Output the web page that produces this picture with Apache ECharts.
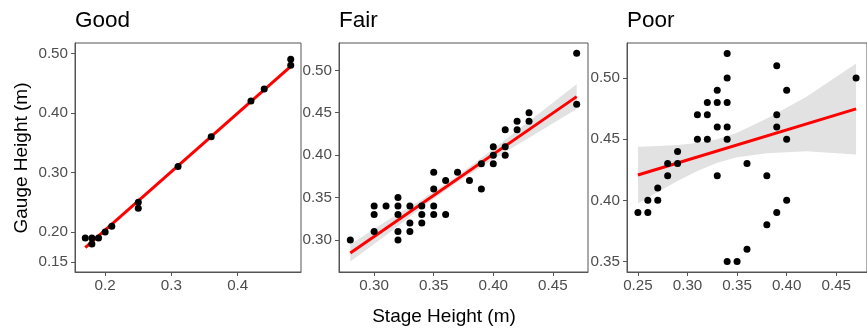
<!DOCTYPE html>
<html>
<head>
<meta charset="utf-8">
<style>
  html, body { margin: 0; padding: 0; background: #fff; }
  #chart { width: 867px; height: 329px; }
</style>
<script src="https://cdn.jsdelivr.net/npm/echarts@6/dist/echarts.min.js"></script>
</head>
<body>
<div id="chart"></div>
<script>
// panel names
const panels = ['Good', 'Fair', 'Poor'];

// Good
const goodX = [0.17, 0.18, 0.18, 0.19, 0.20, 0.21, 0.25, 0.25, 0.31, 0.36, 0.42, 0.44, 0.48, 0.48];
const goodY = [0.19, 0.19, 0.18, 0.19, 0.20, 0.21, 0.25, 0.24, 0.31, 0.36, 0.42, 0.44, 0.49, 0.48];
const goodFitX = [0.17, 0.48];
const goodFitY = [0.174, 0.478];

// Fair
const fairX = [0.28, 0.30, 0.30, 0.30, 0.31, 0.32, 0.32, 0.32, 0.32, 0.32, 0.33, 0.33, 0.33,
  0.34, 0.34, 0.34, 0.35, 0.35, 0.35, 0.35, 0.36, 0.36, 0.37, 0.38, 0.39, 0.39,
  0.40, 0.40, 0.40, 0.41, 0.41, 0.41, 0.42, 0.42, 0.43, 0.43, 0.47, 0.47];
const fairY = [0.30, 0.34, 0.33, 0.31, 0.34, 0.35, 0.34, 0.33, 0.31, 0.30, 0.34, 0.32, 0.31,
  0.34, 0.33, 0.32, 0.38, 0.36, 0.34, 0.33, 0.37, 0.33, 0.38, 0.37, 0.39, 0.36,
  0.41, 0.40, 0.39, 0.43, 0.41, 0.40, 0.44, 0.43, 0.45, 0.44, 0.52, 0.46];
const fairFitX = [0.28, 0.47];
const fairFitY = [0.2848, 0.469];
const fairBandX = [0.28, 0.31, 0.34, 0.37, 0.40, 0.43, 0.47];
const fairBandLo = [0.2748, 0.3057, 0.3382, 0.3685, 0.3951, 0.4205, 0.4545];
const fairBandHi = [0.2948, 0.3221, 0.3478, 0.3757, 0.4073, 0.4400, 0.4835];

// Poor
const poorX = [0.25, 0.26, 0.26, 0.27, 0.27, 0.28, 0.28, 0.29, 0.29, 0.31, 0.31, 0.32, 0.32, 0.32,
  0.33, 0.33, 0.33, 0.33, 0.34, 0.34, 0.34, 0.34, 0.34, 0.34, 0.35, 0.36, 0.36,
  0.38, 0.38, 0.39, 0.39, 0.39, 0.39, 0.40, 0.40, 0.40, 0.47];
const poorY = [0.39, 0.40, 0.39, 0.41, 0.40, 0.43, 0.42, 0.44, 0.43, 0.47, 0.45, 0.48, 0.47, 0.45,
  0.49, 0.48, 0.46, 0.42, 0.52, 0.50, 0.48, 0.46, 0.45, 0.35, 0.35, 0.43, 0.36,
  0.42, 0.38, 0.51, 0.47, 0.46, 0.39, 0.49, 0.45, 0.40, 0.50];
const poorFitX = [0.25, 0.47];
const poorFitY = [0.4207, 0.4747];
const poorBandX = [0.25, 0.27, 0.29, 0.31, 0.33, 0.35, 0.38, 0.42, 0.47];
const poorBandLo = [0.3975, 0.4069, 0.4158, 0.4240, 0.4307, 0.4352, 0.4384, 0.4401, 0.4375];
const poorBandHi = [0.4438, 0.4443, 0.4452, 0.4469, 0.4499, 0.4552, 0.4668, 0.4847, 0.5117];

// tick labels
const goodXTicks = [0.2, 0.3, 0.4];
const goodYTicks = [0.15, 0.20, 0.30, 0.40, 0.50];
const fairXTicks = [0.30, 0.35, 0.40, 0.45];
const fairYTicks = [0.30, 0.35, 0.40, 0.45, 0.50];
const poorXTicks = [0.25, 0.30, 0.35, 0.40, 0.45];
const poorYTicks = [0.35, 0.40, 0.45, 0.50];

const FONT = '"Liberation Sans", Arial, Helvetica, sans-serif';
const AXIS_COLOR = '#555';
const LABEL_COLOR = '#4d4d4d';

const zip = (xs, ys) => xs.map((x, i) => [x, ys[i]]);

const grids = [
  { left: 75, top: 43, width: 226, height: 229 },
  { left: 339, top: 43, width: 249, height: 229 },
  { left: 627, top: 43, width: 249, height: 229 },
];
const xRanges = [[0.1545, 0.4955], [0.2705, 0.4795], [0.239, 0.481]];
const yRanges = [[0.1331, 0.5173], [0.2623, 0.5322], [0.3415, 0.5285]];
const xTicks = [goodXTicks, fairXTicks, poorXTicks];
const yTicks = [goodYTicks, fairYTicks, poorYTicks];
const xDigits = [1, 2, 2];

function axis(i, dir) {
  const isX = dir === 'x';
  const rng = isX ? xRanges[i] : yRanges[i];
  const ticks = isX ? xTicks[i] : yTicks[i];
  const digits = isX ? xDigits[i] : 2;
  return {
    gridIndex: i,
    type: 'value',
    min: rng[0],
    max: rng[1],
    splitLine: { show: false },
    axisLine: { show: true, lineStyle: { color: AXIS_COLOR, width: 1 } },
    axisTick: { show: true, length: 4, customValues: ticks, lineStyle: { color: AXIS_COLOR } },
    axisLabel: {
      customValues: ticks,
      margin: isX ? 6 : 7,
      color: LABEL_COLOR,
      fontSize: 15.2,
      fontFamily: FONT,
      formatter: v => v.toFixed(digits)
    }
  };
}

// confidence band as a polygon placed through the axis scales
function bandSeries(i, bx, lo, hi) {
  return {
    type: 'custom', xAxisIndex: i, yAxisIndex: i,
    data: [[bx[0], lo[0]]], silent: true, clip: true, z: 1,
    renderItem: (params, api) => {
      const top = bx.map((x, k) => api.coord([x, hi[k]]));
      const bottom = bx.map((x, k) => api.coord([x, lo[k]])).reverse();
      return {
        type: 'polygon',
        shape: { points: top.concat(bottom) },
        style: { fill: '#e2e2e2' }
      };
    }
  };
}

function fitSeries(i, fx, fy) {
  return {
    type: 'line', xAxisIndex: i, yAxisIndex: i,
    data: zip(fx, fy), showSymbol: false,
    lineStyle: { color: '#ff0000', width: 3 }, z: 3
  };
}

function pointSeries(i, xs, ys) {
  return {
    type: 'scatter', xAxisIndex: i, yAxisIndex: i,
    data: zip(xs, ys), symbolSize: 7,
    itemStyle: { color: '#000', opacity: 1 }, z: 4
  };
}

const chart = echarts.init(document.getElementById('chart'), null, { renderer: 'canvas' });

chart.setOption({
  animation: false,
  backgroundColor: '#fff',
  title: panels.map((p, i) => ({
    text: p,
    left: grids[i].left,
    top: 9,
    padding: 0,
    textStyle: { fontFamily: FONT, fontSize: 22.5, fontWeight: 'normal', color: '#000' }
  })),
  grid: grids.map(g => Object.assign({ show: true, borderColor: AXIS_COLOR, borderWidth: 1, backgroundColor: '#fff' }, g)),
  xAxis: [0, 1, 2].map(i => axis(i, 'x')),
  yAxis: [0, 1, 2].map(i => axis(i, 'y')),
  graphic: [
    {
      type: 'text', x: 22, y: 158, rotation: Math.PI / 2,
      style: { text: 'Gauge Height (m)', font: '19px ' + FONT, fill: '#000', textAlign: 'center', textVerticalAlign: 'middle' }
    },
    {
      type: 'text', x: 444, y: 317,
      style: { text: 'Stage Height (m)', font: '19px ' + FONT, fill: '#000', textAlign: 'center', textVerticalAlign: 'middle' }
    }
  ],
  series: [
    fitSeries(0, goodFitX, goodFitY),
    pointSeries(0, goodX, goodY),
    bandSeries(1, fairBandX, fairBandLo, fairBandHi),
    fitSeries(1, fairFitX, fairFitY),
    pointSeries(1, fairX, fairY),
    bandSeries(2, poorBandX, poorBandLo, poorBandHi),
    fitSeries(2, poorFitX, poorFitY),
    pointSeries(2, poorX, poorY)
  ]
});
</script>
</body>
</html>
